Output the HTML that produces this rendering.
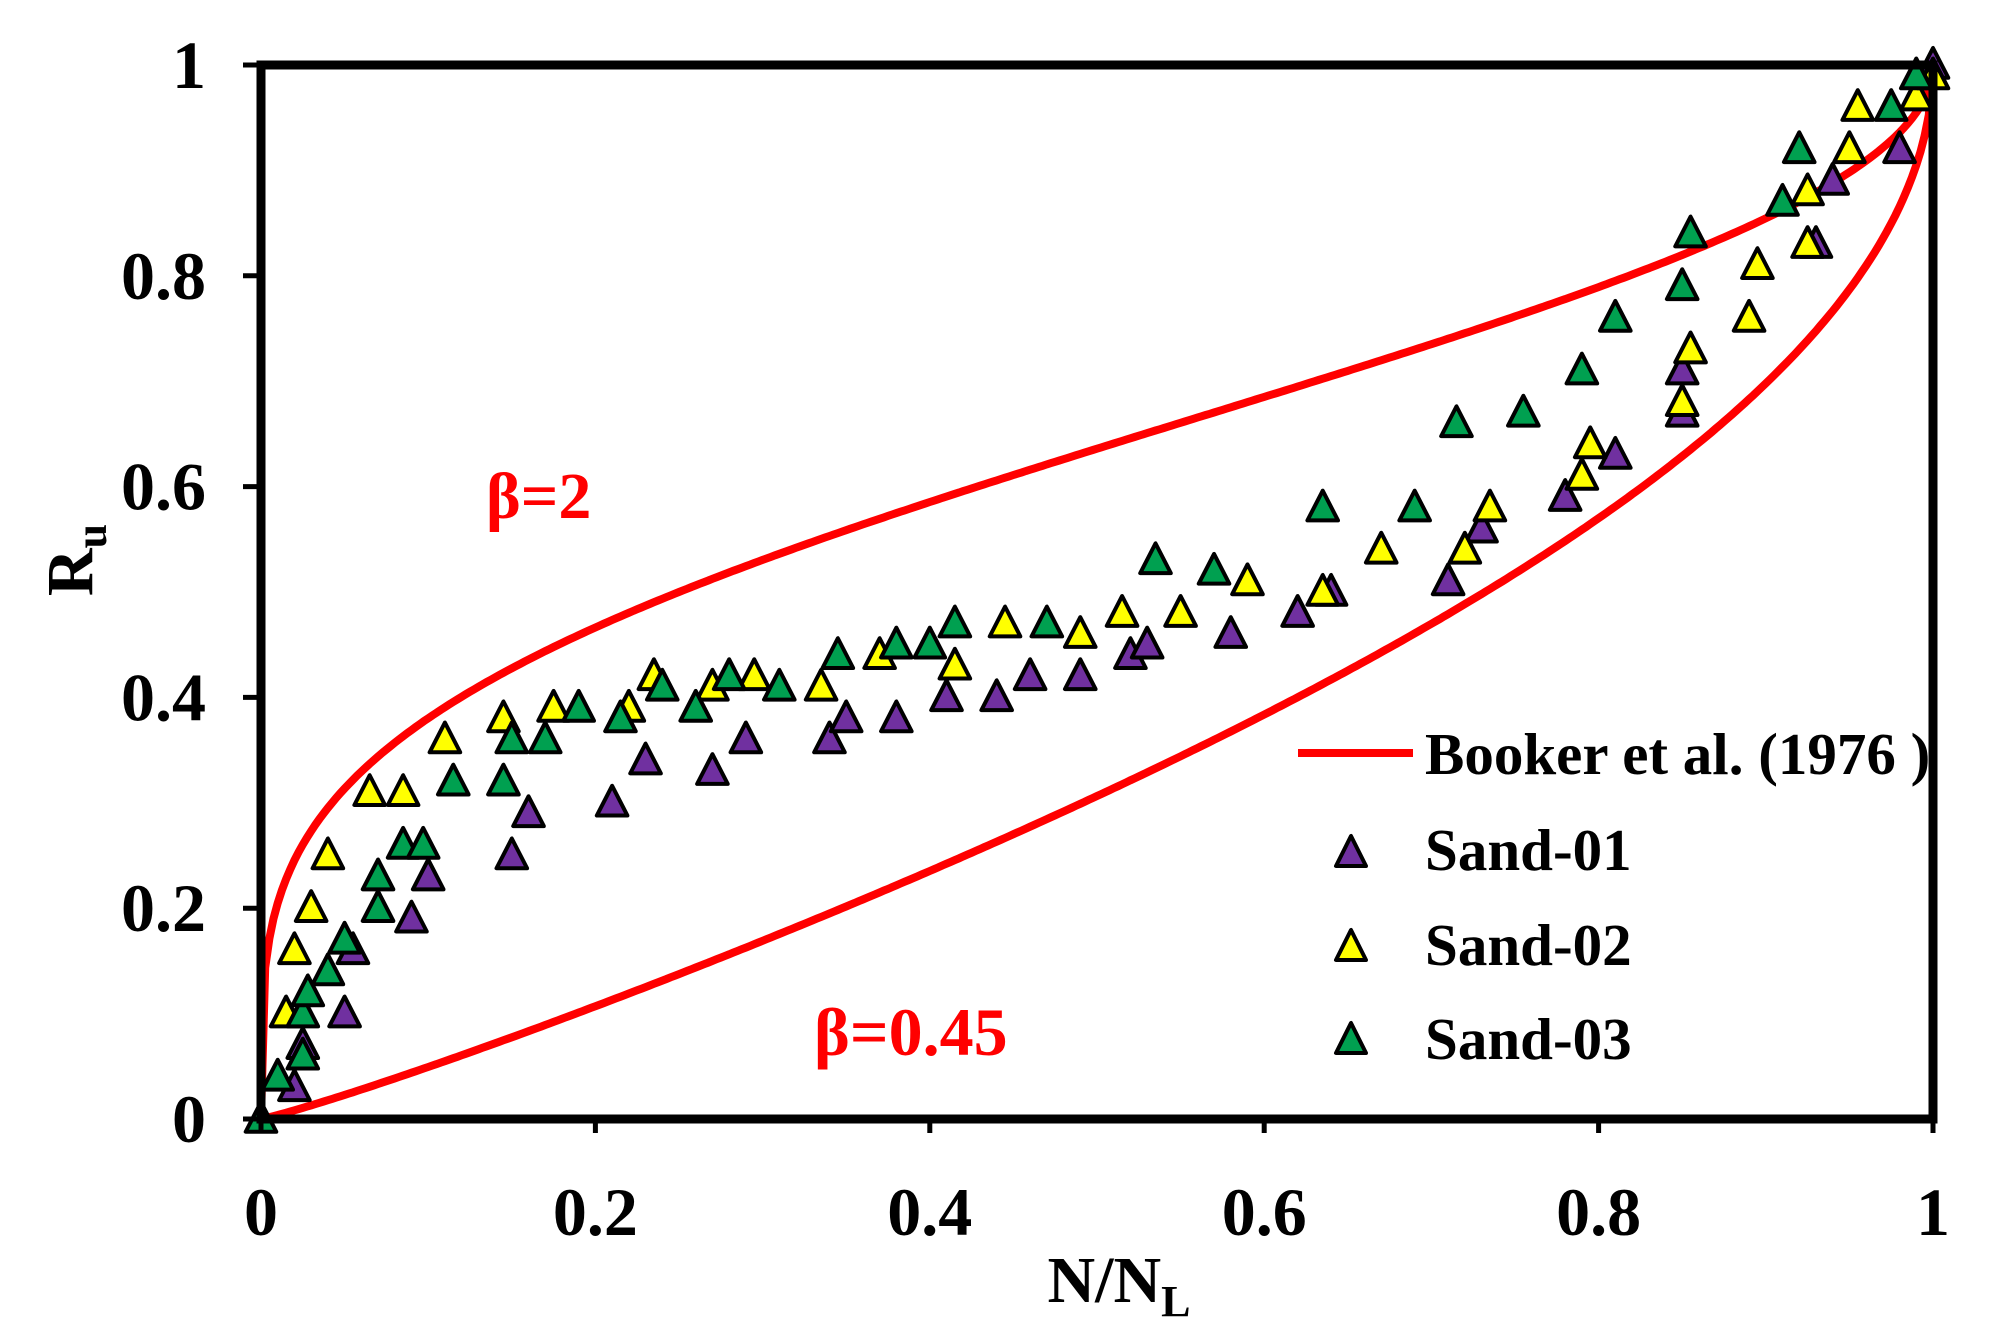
<!DOCTYPE html>
<html><head><meta charset="utf-8"><style>
html,body{margin:0;padding:0;background:#fff}
svg text{font-family:"Liberation Serif",serif;font-weight:bold}
</style></head><body>
<svg id="chart" width="1989" height="1336" xmlns="http://www.w3.org/2000/svg">
<g id="plot"></g>
</svg>
<script>
const xTicks=[0,0.2,0.4,0.6,0.8,1];
const yTicks=[0,0.2,0.4,0.6,0.8,1];
const xTickLabels=["0","0.2","0.4","0.6","0.8","1"];
const yTickLabels=["0","0.2","0.4","0.6","0.8","1"];
const betas=[2,0.45];
const sand01X=[0.02,0.025,0.05,0.055,0.09,0.10,0.15,0.16,0.21,0.23,0.27,0.29,0.34,0.35,0.38,0.41,0.44,0.46,0.49,0.52,0.53,0.58,0.62,0.64,0.71,0.73,0.78,0.81,0.85,0.85,0.93,0.94,0.98,1.0];
const sand01Y=[0.03,0.07,0.10,0.16,0.19,0.23,0.25,0.29,0.30,0.34,0.33,0.36,0.36,0.38,0.38,0.40,0.40,0.42,0.42,0.44,0.45,0.46,0.48,0.50,0.51,0.56,0.59,0.63,0.67,0.71,0.83,0.89,0.92,1.0];
const sand02X=[0.015,0.02,0.03,0.04,0.065,0.085,0.11,0.145,0.175,0.22,0.235,0.27,0.295,0.335,0.37,0.415,0.445,0.49,0.515,0.55,0.59,0.635,0.67,0.72,0.735,0.79,0.795,0.85,0.855,0.89,0.895,0.925,0.925,0.95,0.955,0.99,1.0];
const sand02Y=[0.10,0.16,0.20,0.25,0.31,0.31,0.36,0.38,0.39,0.39,0.42,0.41,0.42,0.41,0.44,0.43,0.47,0.46,0.48,0.48,0.51,0.50,0.54,0.54,0.58,0.61,0.64,0.68,0.73,0.76,0.81,0.83,0.88,0.92,0.96,0.97,0.99];
const sand03X=[0,0.01,0.025,0.025,0.028,0.04,0.05,0.07,0.07,0.085,0.097,0.115,0.145,0.15,0.17,0.19,0.215,0.24,0.26,0.28,0.31,0.345,0.38,0.40,0.415,0.47,0.535,0.57,0.635,0.69,0.715,0.755,0.79,0.81,0.85,0.855,0.91,0.92,0.975,0.99];
const sand03Y=[0,0.04,0.06,0.10,0.12,0.14,0.17,0.20,0.23,0.26,0.26,0.32,0.32,0.36,0.36,0.39,0.38,0.41,0.39,0.42,0.41,0.44,0.45,0.45,0.47,0.47,0.53,0.52,0.58,0.58,0.66,0.67,0.71,0.76,0.79,0.84,0.87,0.92,0.96,0.99];

const X0=261,X1=1933,Y0=1119,Y1=65;
const sx=v=>X0+v*(X1-X0), sy=v=>Y0-v*(Y0-Y1);
const NS="http://www.w3.org/2000/svg";
const svg=document.getElementById('chart');
function mk(tag,attrs,parent){const e=document.createElementNS(NS,tag);for(const k in attrs)e.setAttribute(k,attrs[k]);(parent||svg).appendChild(e);return e;}

betas.forEach((b,i)=>{
  let d="";
  for(let k=0;k<=400;k++){const r=k/400;const v=0.5+Math.asin(2*Math.pow(r,1/b)-1)/Math.PI;d+=(k?"L":"M")+sx(r).toFixed(1)+","+sy(v).toFixed(1);}
  const p=mk('path',{d:d,fill:'none',stroke:'#ff0000','stroke-width':8});
  
  
});

function tri(cx,cy,fill,name){
  const s=17;
  const t=mk('polygon',{points:`${cx},${cy-s} ${cx-s*0.9},${cy+s*0.75} ${cx+s*0.9},${cy+s*0.75}`,fill:fill,stroke:'#000','stroke-width':4,'stroke-linejoin':'round'});
  
  
}
sand01X.forEach((x,i)=>tri(sx(x),sy(sand01Y[i]),'#7030a0','sand-01-point'));
sand02X.forEach((x,i)=>tri(sx(x),sy(sand02Y[i]),'#ffff00','sand-02-point'));
sand03X.forEach((x,i)=>tri(sx(x),sy(sand03Y[i]),'#00a050','sand-03-point'));

const fr=mk('rect',{x:X0,y:Y1,width:X1-X0,height:Y0-Y1,fill:'none',stroke:'#000','stroke-width':9});



yTicks.forEach((v,i)=>{
  const l=mk('line',{x1:X0-18,x2:X0,y1:sy(v),y2:sy(v),stroke:'#000','stroke-width':5});
  
  
  const t=mk('text',{x:206,y:sy(v)+23,'text-anchor':'end','font-size':68});
  t.textContent=yTickLabels[i];
  
  
});
xTicks.forEach((v,i)=>{
  const l=mk('line',{x1:sx(v),x2:sx(v),y1:Y0,y2:Y0+14,stroke:'#000','stroke-width':5});
  
  
  const t=mk('text',{x:sx(v),y:1235,'text-anchor':'middle','font-size':68});
  t.textContent=xTickLabels[i];
  
  
});
</script>
<svg style="position:absolute;left:0;top:0" width="1989" height="1336" xmlns="http://www.w3.org/2000/svg">
<text x="1119" y="1302" text-anchor="middle" font-size="66">N/N<tspan font-size="44" dy="14">L</tspan></text>
<text transform="translate(92,560) rotate(-90)" text-anchor="middle" font-size="66">R<tspan font-size="44" dy="14">u</tspan></text>
<text x="486" y="518" fill="#ff0000" font-size="66">β=2</text>
<text x="814" y="1055" fill="#ff0000" font-size="68">β=0.45</text>
<g>
<line x1="1298" y1="753" x2="1413" y2="753" stroke="#ff0000" stroke-width="8"/>
<text x="1425" y="774" font-size="59">Booker et al. (1976 )</text>
<polygon points="1351,836 1336,866 1366,866" fill="#7030a0" stroke="#000" stroke-width="4" stroke-linejoin="round"/>
<text x="1425" y="870" font-size="59">Sand-01</text>
<polygon points="1351,930 1336,960 1366,960" fill="#ffff00" stroke="#000" stroke-width="4" stroke-linejoin="round"/>
<text x="1425" y="965" font-size="59">Sand-02</text>
<polygon points="1351,1023 1336,1053 1366,1053" fill="#00a050" stroke="#000" stroke-width="4" stroke-linejoin="round"/>
<text x="1425" y="1059" font-size="59">Sand-03</text>
</g>
</svg>
</body></html>
